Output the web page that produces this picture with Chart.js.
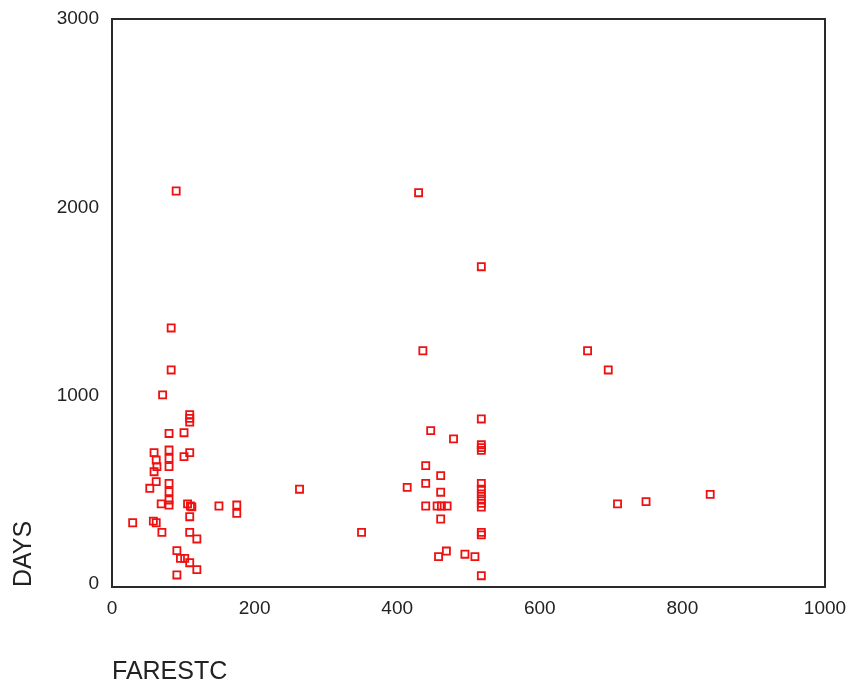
<!DOCTYPE html>
<html>
<head>
<meta charset="utf-8">
<script src="https://cdn.jsdelivr.net/npm/chart.js@4/dist/chart.umd.min.js"></script>
<style>
  html, body { margin: 0; padding: 0; background: #ffffff; }
  #wrap { width: 848px; height: 685px; }
</style>
</head>
<body>
<div id="wrap"><canvas id="c" width="848" height="685"></canvas></div>
<script>
// Fare estimate (FARESTC) against trip length (DAYS)
const farestc = [
  90, 83, 83, 71, 109, 109, 109, 80, 101, 59,
  80, 80, 80, 101, 109, 62, 63, 59, 62, 53,
  80, 80, 80, 80, 69, 106, 110, 112, 150, 175,
  175, 29, 58, 62, 70, 109, 109, 119, 91, 96,
  102, 109, 119, 91,
  430, 518, 436, 518, 447, 479, 518, 518, 518, 440,
  461, 440, 414, 461, 518, 518, 518, 518, 518, 518,
  440, 456, 462, 470, 461, 518, 518, 469, 458, 495,
  509, 518, 263, 350, 667, 696, 709, 749, 839
];
const days = [
  2087, 1360, 1137, 1005, 900, 880, 860, 800, 804, 698,
  712, 668, 624, 677, 698, 659, 624, 597, 544, 509,
  535, 491, 447, 420, 426, 426, 415, 410, 415, 420,
  376, 326, 335, 326, 275, 358, 275, 240, 178, 137,
  137, 114, 77, 49,
  2078, 1685, 1239, 877, 815, 771, 740, 725, 710, 629,
  576, 535, 514, 488, 535, 504, 479, 452, 429, 409,
  415, 415, 415, 415, 346, 275, 262, 176, 146, 159,
  146, 45, 504, 275, 1239, 1137, 426, 438, 477
];
const xTicks = [0, 200, 400, 600, 800, 1000];
const yTicks = [0, 1000, 2000, 3000];

const points = farestc.map((f, i) => ({ x: f, y: days[i] }));

const FONT = "'Liberation Sans', Arial, sans-serif";
const INK = '#222222';

// Closed frame around the plotting area
const framePlugin = {
  id: 'frame',
  afterDraw(chart) {
    const { ctx, chartArea: a } = chart;
    ctx.save();
    ctx.strokeStyle = '#2a2a2a';
    ctx.lineWidth = 2;
    ctx.strokeRect(a.left, a.top, a.right - a.left, a.bottom - a.top);
    ctx.restore();
  }
};

new Chart(document.getElementById('c'), {
  type: 'scatter',
  data: {
    datasets: [{
      data: points,
      pointStyle: 'rect',
      pointRadius: 5,
      pointHoverRadius: 5,
      borderColor: '#ee1111',
      backgroundColor: 'rgba(0,0,0,0)',
      borderWidth: 1.8
    }]
  },
  options: {
    responsive: false,
    animation: false,
    events: [],
    layout: { padding: { left: 0, top: 19, right: 23, bottom: 0 } },
    plugins: { legend: { display: false }, tooltip: { enabled: false } },
    scales: {
      x: {
        type: 'linear',
        min: 0,
        max: 1000,
        afterBuildTicks(scale) { scale.ticks = xTicks.map(v => ({ value: v })); },
        afterFit(scale) {
          scale.height = 98;
          scale.paddingLeft = 0;
          scale.paddingRight = 0;
        },
        grid: { display: false, drawTicks: false },
        border: { display: false },
        ticks: {
          color: INK, font: { family: FONT, size: 19 }, padding: 10, maxRotation: 0,
          callback: v => String(v)
        },
        title: {
          display: true,
          text: 'FARESTC',
          align: 'start',
          color: INK,
          font: { family: FONT, size: 25, lineHeight: 1 },
          padding: { top: 0, bottom: 0 }
        }
      },
      y: {
        type: 'linear',
        min: -15,
        max: 3000,
        afterBuildTicks(scale) { scale.ticks = yTicks.map(v => ({ value: v })); },
        afterFit(scale) {
          scale.width = 112;
          scale.paddingTop = 0;
          scale.paddingBottom = 0;
        },
        grid: { display: false, drawTicks: false },
        border: { display: false },
        ticks: {
          color: INK, font: { family: FONT, size: 19 }, padding: 13,
          callback: v => String(v)
        },
        title: {
          display: true,
          text: 'DAYS',
          align: 'start',
          color: INK,
          font: { family: FONT, size: 25, lineHeight: 1 },
          padding: { top: 12, bottom: 0 }
        }
      }
    }
  },
  plugins: [framePlugin]
});
</script>
</body>
</html>
